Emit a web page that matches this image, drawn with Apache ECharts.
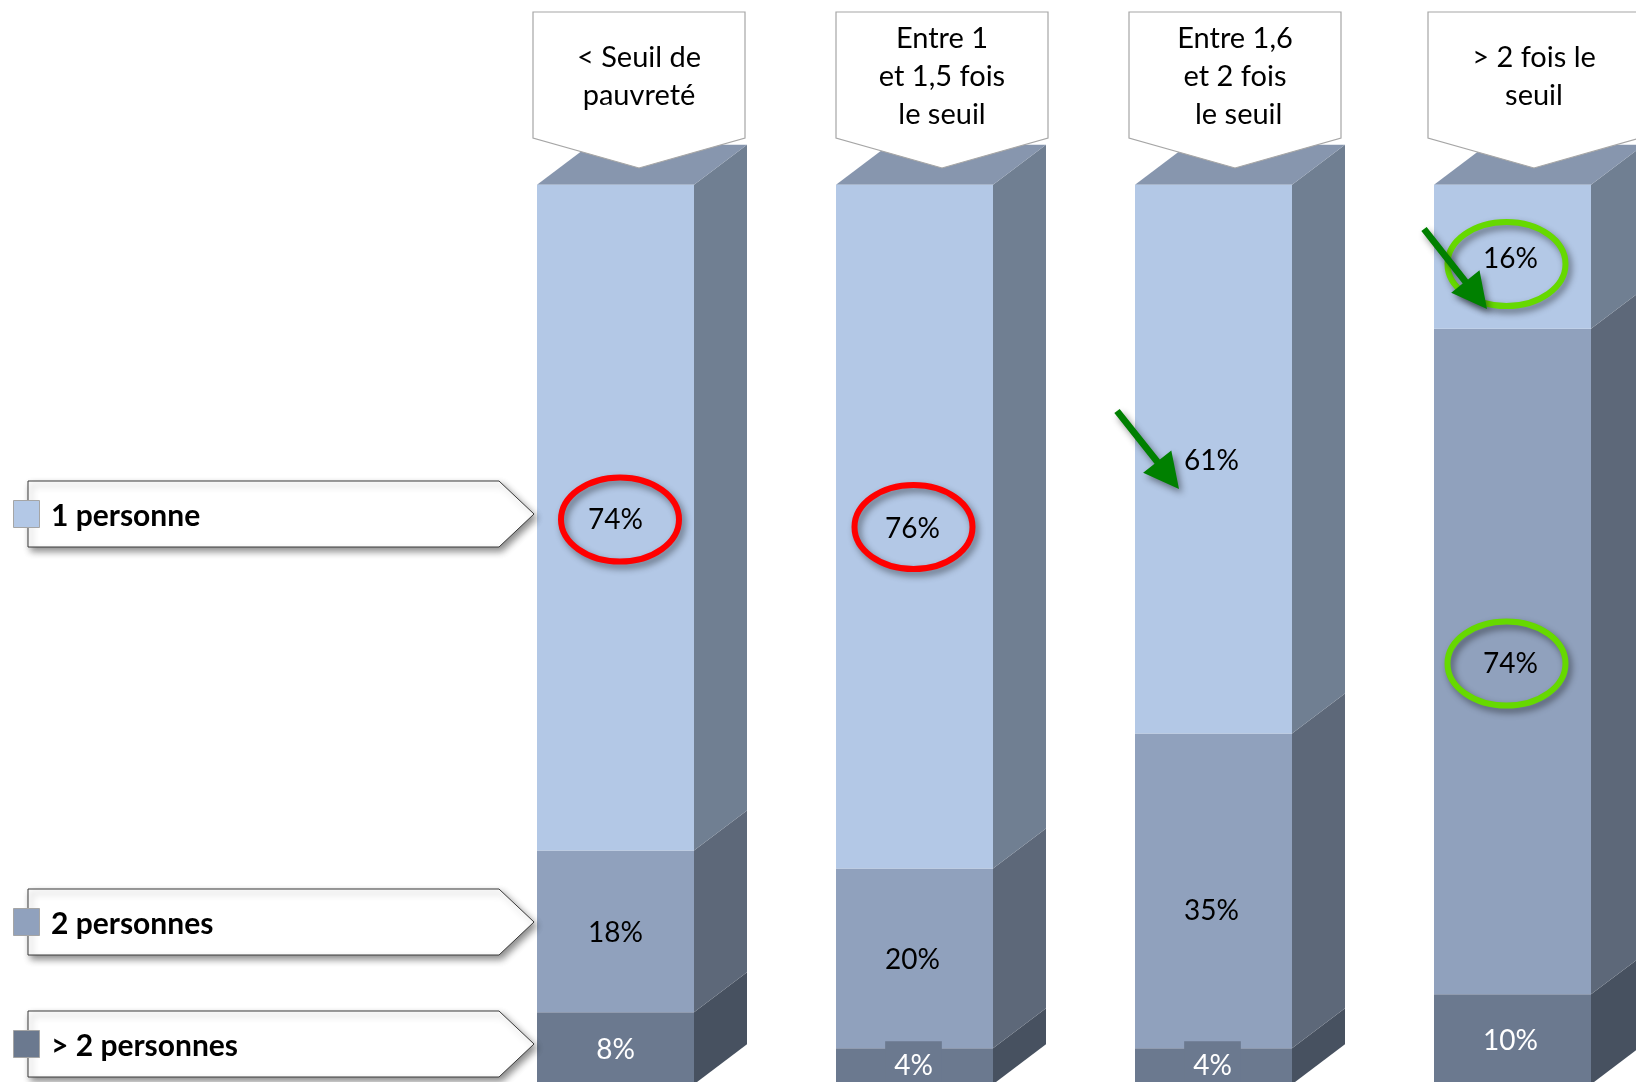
<!DOCTYPE html>
<html>
<head>
<meta charset="utf-8">
<title>Taille du ménage selon le niveau de revenu</title>
<script src="https://cdn.jsdelivr.net/npm/echarts@6/dist/echarts.min.js"></script>
<style>
html,body{margin:0;padding:0;background:#fff;overflow:hidden}
#chart{width:1636px;height:1082px}
</style>
</head>
<body>
<div id="chart"></div>
<script>
// Household size by income bracket (shares in %, stacked to 100)
const categories = ['< Seuil de\npauvreté', 'Entre 1\net 1,5 fois\nle seuil', 'Entre 1,6\net 2 fois\n le seuil', '> 2 fois le\nseuil'];
const seriesNames = ['> 2 personnes', '2 personnes', '1 personne'];
const morePersons = [8, 4, 4, 10];
const twoPersons = [18, 20, 35, 74];
const onePerson = [74, 76, 61, 16];

const FONT = 'Lato, "Open Sans", sans-serif';
const frontColors = ['#6b798f', '#90a1bd', '#b3c8e6'];
const sideColors = ['#475160', '#5d6879', '#707f92'];
const topColor = '#8796ae';
const BAR_W = 157, DX = 53, DY = 40;
const layers = [morePersons, twoPersons, onePerson];

const shadow = { shadowBlur: 7, shadowColor: 'rgba(0,0,0,0.45)', shadowOffsetX: 3, shadowOffsetY: 4 };

// Right-hand face of each stacked block, extruded from the axis coordinates
function sideFace(colorIdx) {
  return function (params, api) {
    const low = api.coord([api.value(0), api.value(1)]);
    const high = api.coord([api.value(0), api.value(2)]);
    const xr = low[0] + BAR_W / 2;
    return {
      type: 'polygon',
      shape: { points: [[xr, low[1]], [xr, high[1]], [xr + DX, high[1] - DY], [xr + DX, low[1] - DY]] },
      style: { fill: sideColors[colorIdx] }
    };
  };
}

function topFace(params, api) {
  const p = api.coord([api.value(0), api.value(1)]);
  const xl = p[0] - BAR_W / 2, xr = p[0] + BAR_W / 2;
  return {
    type: 'polygon',
    shape: { points: [[xl, p[1]], [xr, p[1]], [xr + DX, p[1] - DY], [xl + DX, p[1] - DY]] },
    style: { fill: topColor }
  };
}

const series = [];
const running = categories.map(() => 0);
layers.forEach((values, k) => {
  const ranges = values.map((v, i) => {
    const r = [i, running[i], running[i] + v];
    running[i] += v;
    return r;
  });
  series.push({
    type: 'custom',
    name: seriesNames[k] + ' (côté)',
    silent: true,
    clip: false,
    renderItem: sideFace(k),
    encode: { x: 0, y: [1, 2] },
    data: ranges,
    z: 1
  });
  series.push({
    type: 'bar',
    name: seriesNames[k],
    stack: 'menage',
    barWidth: BAR_W,
    itemStyle: { color: frontColors[k] },
    z: 3,
    label: {
      show: true,
      position: 'inside',
      fontFamily: FONT,
      fontSize: 28,
      color: k === 0 ? '#ffffff' : '#000000',
      formatter: p => p.value + '%'
    },
    data: values.map((v, col) => {
      const dx = col === 0 ? 0 : -2;
      const item = { value: v, label: { offset: [dx, 2] } };
      if (k === 0 && v === 4) {
        // Small value: the label keeps its own box, slightly taller than the block
        item.label = { backgroundColor: frontColors[0], padding: [13, 9, 9, 9], offset: [-1, 0] };
      }
      if (k === 1 && v === 35) item.label = { offset: [dx, 20] };
      return item;
    })
  });
});
series.push({
  type: 'custom',
  name: 'dessus',
  silent: true,
  clip: false,
  renderItem: topFace,
  encode: { x: 0, y: 1 },
  data: categories.map((c, i) => [i, 100]),
  z: 1
});

// Column headers: pentagons pointing down to each bar
const headerLeft = [533, 836, 1129, 1428];
const graphics = [];
categories.forEach((text, i) => {
  const l = headerLeft[i], r = l + 212, m = l + 106;
  graphics.push({
    type: 'polygon', z: 20, silent: true,
    shape: { points: [[l, 12], [r, 12], [r, 138], [m, 168], [l, 138]] },
    style: { fill: '#ffffff', stroke: '#a6a6a6', lineWidth: 1.2 }
  });
  graphics.push({
    type: 'text', z: 21, silent: true, x: m, y: 77,
    style: {
      text, font: '29px ' + FONT, fill: '#000000', align: 'center', verticalAlign: 'middle', lineHeight: 38
    }
  });
});

// Legend tags: arrow-shaped labels with a colour swatch
const legendTop = [481, 889, 1011];
const legendOrder = [2, 1, 0];
legendOrder.forEach((k, n) => {
  const t = legendTop[n], b = t + 66, mid = t + 33;
  graphics.push({
    type: 'polygon', z: 20, silent: true,
    shape: { points: [[28, t], [499, t], [534, mid], [499, b], [28, b]] },
    style: Object.assign({ fill: '#ffffff', stroke: '#3a3a3a', lineWidth: 1 }, shadow)
  });
  graphics.push({
    type: 'rect', z: 22, silent: true,
    shape: { x: 13.5, y: mid - 13.5, width: 26, height: 27 },
    style: { fill: frontColors[k], stroke: '#a5a5a5', lineWidth: 1 }
  });
  graphics.push({
    type: 'text', z: 22, silent: true, x: 51, y: mid + 2,
    style: {
      text: seriesNames[k], font: 'bold 30px ' + FONT, fill: '#000000', align: 'left', verticalAlign: 'middle'
    }
  });
});

// Highlight rings around selected values
const rings = [
  [620, 519.5, '#ff0000'], [913.5, 527, '#ff0000'],
  [1506.5, 264, '#66d900'], [1506.5, 663.5, '#66d900']
];
rings.forEach(([cx, cy, color]) => {
  graphics.push({
    type: 'ellipse', z: 30, silent: true,
    shape: { cx, cy, rx: 59, ry: 42 },
    style: Object.assign({ fill: 'none', stroke: color, lineWidth: 6 }, shadow)
  });
});

// Trend arrows, built from start and tip points
function arrowPoints(x0, y0, x1, y1) {
  const len = Math.hypot(x1 - x0, y1 - y0);
  const ux = (x1 - x0) / len, uy = (y1 - y0) / len;
  const nx = -uy, ny = ux;
  const headLen = 35, headHalf = 18, shaft = 3.4;
  const bx = x1 - ux * headLen, by = y1 - uy * headLen;
  return [
    [x0 + nx * shaft, y0 + ny * shaft], [bx + nx * shaft, by + ny * shaft],
    [bx + nx * headHalf, by + ny * headHalf], [x1, y1],
    [bx - nx * headHalf, by - ny * headHalf], [bx - nx * shaft, by - ny * shaft],
    [x0 - nx * shaft, y0 - ny * shaft]
  ];
}
[[1117, 411, 1179, 489], [1424, 229, 1487, 309]].forEach(a => {
  graphics.push({
    type: 'polygon', z: 31, silent: true,
    shape: { points: arrowPoints(a[0], a[1], a[2], a[3]) },
    style: Object.assign({ fill: '#008000' }, shadow)
  });
});

const chart = echarts.init(document.getElementById('chart'), null, { renderer: 'canvas' });
chart.setOption({
  animation: false,
  backgroundColor: '#ffffff',
  grid: { left: 466, top: 184.7, width: 1196, height: 899.6, outerBoundsMode: 'none' },
  xAxis: { type: 'category', data: categories, show: false },
  yAxis: { type: 'value', min: 0, max: 100, show: false },
  series,
  graphic: { elements: graphics }
});
</script>
</body>
</html>
